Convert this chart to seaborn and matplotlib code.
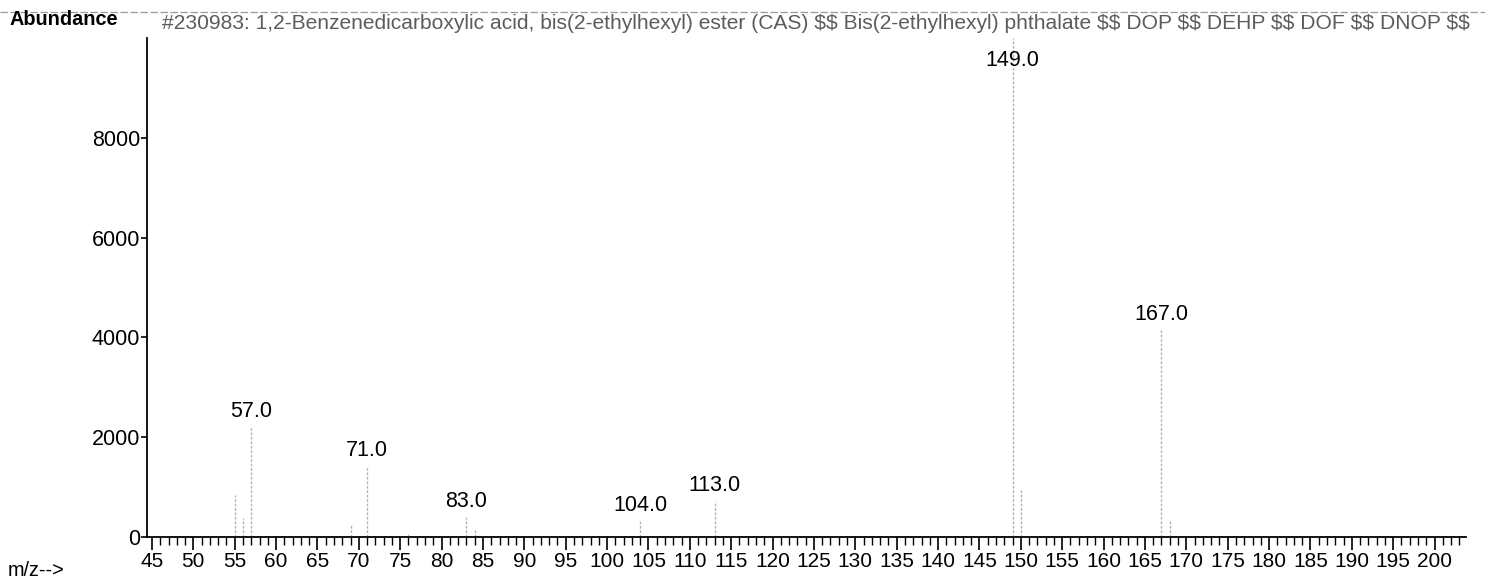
import numpy as np
import pandas as pd
import matplotlib
matplotlib.use("Agg")
import matplotlib.pyplot as plt
from matplotlib.lines import Line2D
from matplotlib.ticker import MultipleLocator
import seaborn as sns

# Library spectrum of bis(2-ethylhexyl) phthalate (abundance scaled to 9999)
mz = [55, 56, 57, 69, 71, 76, 83, 84, 104, 113, 149, 150, 167, 168]
abundance = [850, 380, 2200, 250, 1420, 80, 400, 150, 330, 720, 9999, 950, 4150, 330]
labelled_mz = [57, 71, 83, 104, 113, 149, 167]

x_ticks = list(range(45, 201, 5))
y_ticks = [0, 2000, 4000, 6000, 8000]

title = ("#230983: 1,2-Benzenedicarboxylic acid, bis(2-ethylhexyl) ester (CAS) $$ "
         "Bis(2-ethylhexyl) phthalate $$ DOP $$ DEHP $$ DOF $$ DNOP $$")

spec = pd.DataFrame({"mz": mz, "abundance": abundance})

sns.set_theme(style="ticks")
plt.rcParams["font.family"] = ["Liberation Sans", "DejaVu Sans"]

W, H = 1485, 581
fig = plt.figure(figsize=(W / 100, H / 100), dpi=100)
fig.patch.set_facecolor("white")
ax = fig.add_axes([147 / W, 1 - 537 / H, (1466 - 147) / W, (537 - 38) / H])
ax.set_facecolor("white")

ax.vlines(spec["mz"], 0, spec["abundance"], color="#b4b4b4", linewidth=1.0,
          linestyles=[(0, (2.0, 1.2))])

ymax = 10000
ax.set_xlim(44.4, 203.8)
ax.set_ylim(0, ymax)

for m in labelled_mz:
    h = spec.loc[spec["mz"] == m, "abundance"].iloc[0]
    ax.annotate(f"{m:.1f}", xy=(m, min(h, ymax * 0.925)), xytext=(0, 3.5),
                textcoords="offset points", ha="center", va="bottom",
                fontsize=15.5, color="black")

sns.despine(ax=ax)
for s in ("left", "bottom"):
    ax.spines[s].set_color("black")
    ax.spines[s].set_linewidth(1.3)

ax.set_xticks(x_ticks)
ax.set_xticklabels([str(t) for t in x_ticks])
ax.xaxis.set_minor_locator(MultipleLocator(1))
ax.set_yticks(y_ticks)
ax.set_yticklabels([str(t) for t in y_ticks])
ax.tick_params(axis="x", which="major", direction="out", length=9, width=1.2,
               color="black", labelsize=15, pad=1.5, labelcolor="black")
ax.tick_params(axis="x", which="minor", direction="out", length=5.5, width=1.0,
               color="black")
ax.tick_params(axis="y", which="major", direction="out", length=4, width=1.2,
               color="black", labelsize=15.5, pad=1, labelcolor="black")
ax.grid(False)

# Header line and axis captions
fig.text(162 / W, 1 - 29 / H, title, fontsize=15.1, color="#5c5c5c",
         va="baseline", ha="left", parse_math=False)
fig.text(10 / W, 1 - 25 / H, "Abundance", fontsize=14.3, fontweight="bold",
         color="black", va="baseline", ha="left")
fig.text(8 / W, 1 - 576 / H, "m/z-->", fontsize=14.3, color="black",
         va="baseline", ha="left")

# Separator from the panel above
fig.add_artist(Line2D([0, 1], [1 - 12 / H, 1 - 12 / H], transform=fig.transFigure,
                      color="#9a9a9a", linewidth=0.9, linestyle=(0, (6, 2))))

fig.savefig("out.png", dpi=100, facecolor="white")
